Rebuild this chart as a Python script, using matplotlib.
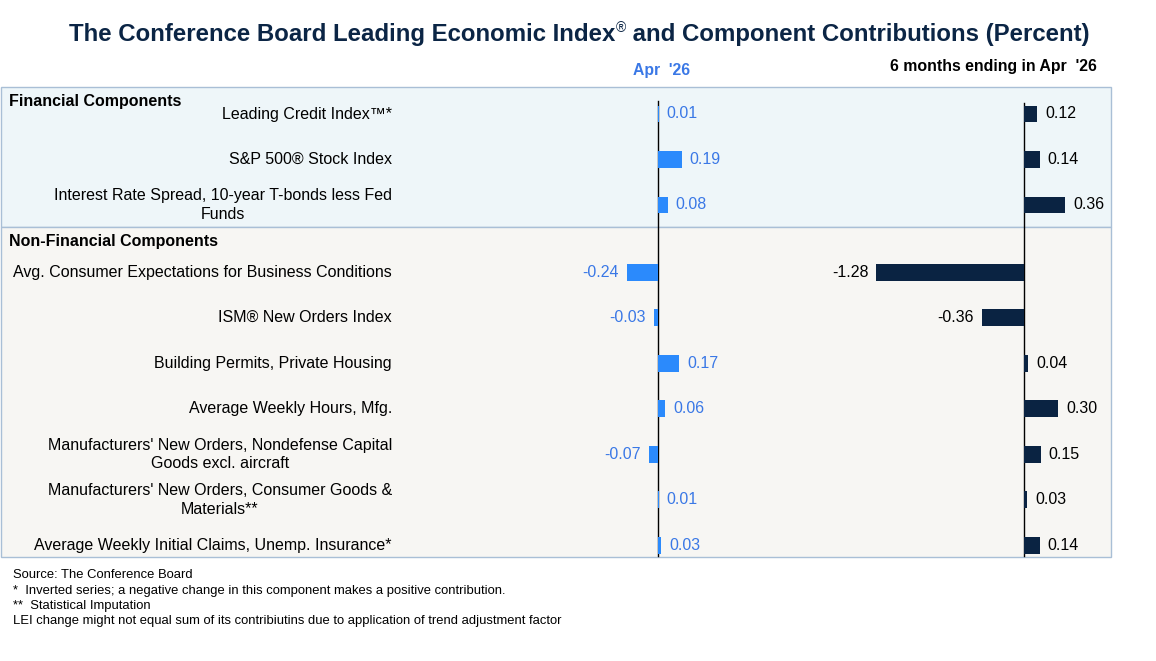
import matplotlib.pyplot as plt
import numpy as np
from matplotlib.patches import Rectangle

plt.rcParams['font.family'] = ['Liberation Sans', 'DejaVu Sans']

labels = [
    "Leading Credit Index\u2122*",
    "S&P 500\u00ae Stock Index",
    "Interest Rate Spread, 10-year T-bonds less Fed\nFunds",
    "Avg. Consumer Expectations for Business Conditions",
    "ISM\u00ae New Orders Index",
    "Building Permits, Private Housing",
    "Average Weekly Hours, Mfg.",
    "Manufacturers' New Orders, Nondefense Capital\nGoods excl. aircraft",
    "Manufacturers' New Orders, Consumer Goods &\nMaterials**",
    "Average Weekly Initial Claims, Unemp. Insurance*",
]
month_vals = [0.01, 0.19, 0.08, -0.24, -0.03, 0.17, 0.06, -0.07, 0.01, 0.03]
six_month_vals = [0.12, 0.14, 0.36, -1.28, -0.36, 0.04, 0.30, 0.15, 0.03, 0.14]
n_financial = 3

title_main = "The Conference Board Leading Economic Index"
title_rest = " and Component Contributions (Percent)"
col1_head = "Apr  '26"
col2_head = "6 months ending in Apr  '26"
footnotes = [
    "Source: The Conference Board",
    "*  Inverted series; a negative change in this component makes a positive contribution.",
    "**  Statistical Imputation",
    "LEI change might not equal sum of its contribiutins due to application of trend adjustment factor",
]

W, H = 1156, 661
BLUE = "#2b8afc"
BLUE_TXT = "#3a78e6"
NAVY = "#0a2342"
TITLE_C = "#0b2545"

fig = plt.figure(figsize=(W / 100, H / 100), dpi=100)

# background axes in pixel coordinates for panels and text
bg = fig.add_axes([0, 0, 1, 1])
bg.set_xlim(0, W)
bg.set_ylim(H, 0)
bg.axis("off")

bg.add_patch(Rectangle((0.5, 87), 1110, 140, facecolor="#eef6f9", edgecolor="#a9bfd6", lw=1))
bg.add_patch(Rectangle((0.5, 227), 1110, 330, facecolor="#f7f6f3", edgecolor="#a9bfd6", lw=1))

# title, with a small registered sign between the two parts
t1 = bg.text(69, 34, title_main, ha="left", va="center", fontsize=17.3, fontweight="bold", color=TITLE_C)
fig.canvas.draw()
x_end = t1.get_window_extent().x1
reg = fig.text(x_end / W, (H - 28) / H, "\u00ae", ha="left", va="center", fontsize=10, color=TITLE_C)
fig.canvas.draw()
rb = reg.get_window_extent()
fig.text(rb.x1 / W, (H - 34) / H, title_rest, ha="left", va="center", fontsize=17.3,
         fontweight="bold", color=TITLE_C)

bg.text(662, 71, col1_head, ha="center", va="center", fontsize=11.3, fontweight="bold", color=BLUE_TXT)
bg.text(1097, 67, col2_head, ha="right", va="center", fontsize=11.4, fontweight="bold", color="black")
bg.text(9, 101.5, "Financial Components", ha="left", va="center", fontsize=11.5, fontweight="bold")
bg.text(9, 241.5, "Non-Financial Components", ha="left", va="center", fontsize=11.5, fontweight="bold")

for k, line in enumerate(footnotes):
    bg.text(13, 575.5 + 15.3 * k, line, ha="left", va="center", fontsize=9.4)

# row slots: extra gap before the non-financial block
slots = np.array([i + (0.48 if i >= n_financial else 0) for i in range(len(labels))])
row0, row_h = 114.0, 45.5
ylim = ((H - row0) / row_h, -row0 / row_h)

for i, lab in enumerate(labels):
    bg.text(392, row0 + row_h * slots[i], lab, ha="right", va="center",
            multialignment="center", fontsize=11.5, linespacing=1.3)


def bar_axes(zero_px, px_per_unit, top_px):
    ax = fig.add_axes([0, 0, 1, 1])
    ax.patch.set_alpha(0)
    ax.set_xlim(-zero_px / px_per_unit, (W - zero_px) / px_per_unit)
    ax.set_ylim(*ylim)
    ax.axis("off")
    ax.axvline(0, ymin=(H - 556) / H, ymax=(H - top_px) / H, color="black", lw=1.0)
    return ax


ax1 = bar_axes(657.5, 127, 101)
ax2 = bar_axes(1023.5, 115, 103)

ax1.barh(slots, month_vals, height=0.37, color=BLUE, zorder=2)
ax2.barh(slots, six_month_vals, height=0.37, color=NAVY, zorder=2)

for ax, vals, color, scale in [(ax1, month_vals, BLUE_TXT, 127), (ax2, six_month_vals, "black", 115)]:
    off = 8 / scale
    for y, v in zip(slots, vals):
        if v >= 0:
            ax.text(v + off, y, f"{v:.2f}", ha="left", va="center", fontsize=11.5, color=color)
        else:
            ax.text(v - off, y, f"{v:.2f}", ha="right", va="center", fontsize=11.5, color=color)

fig.savefig("out.png", dpi=100)
